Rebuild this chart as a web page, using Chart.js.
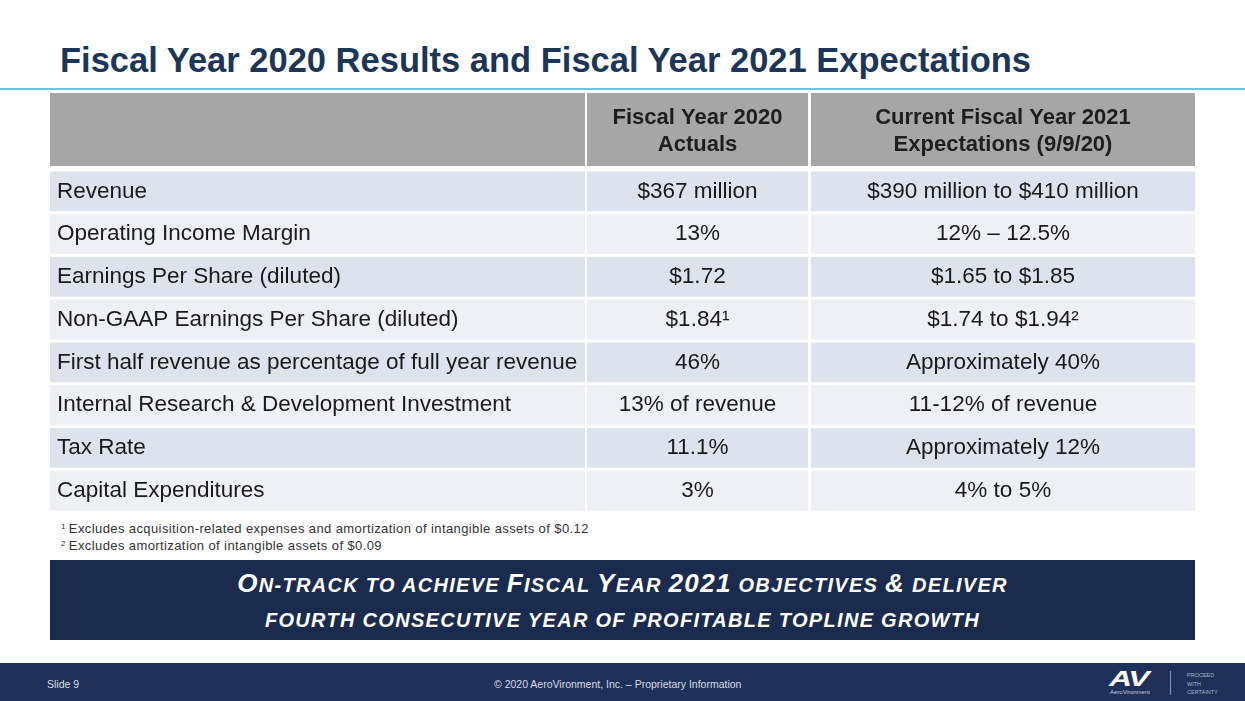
<!DOCTYPE html>
<html>
<head>
<meta charset="utf-8">
<script src="https://cdn.jsdelivr.net/npm/chart.js@4/dist/chart.umd.min.js"></script>
<style>
  body { margin: 0; width: 1245px; height: 701px; background: #fff; position: relative; overflow: hidden; font-family: "Liberation Sans", Arial, sans-serif; }
  #title { position: absolute; left: 60px; top: 40px; font-size: 34.5px; line-height: 40px; font-weight: bold; color: #1c3659; white-space: nowrap; }
  #rule { position: absolute; left: 0; top: 88px; width: 1245px; height: 2px; background: #6cc6e0; }
  #table-wrap { position: absolute; left: 50px; top: 93px; width: 1145px; height: 419px; }
  #notes { position: absolute; left: 61px; top: 520px; font-size: 13px; letter-spacing: 0.4px; color: #333; line-height: 17px; }
  #notes sup { font-size: 8px; line-height: 0; vertical-align: 4px; margin-right: 3px; }
  #banner { position: absolute; left: 50px; top: 560px; width: 1145px; height: 80px; background: #1b2b4d; color: #fff; text-align: center; font-weight: bold; font-style: italic; font-size: 20px; letter-spacing: 1.3px; line-height: 35px; box-sizing: border-box; padding-top: 6px; }
  #banner .cap { font-size: 26px; }
  #footer { position: absolute; left: 0; top: 663px; width: 1245px; height: 38px; background: #1f3159; color: #d8dce6; }
  #slide-no { position: absolute; left: 47px; top: 15px; font-size: 10.5px; }
  #copy { position: absolute; left: 494px; top: 15px; font-size: 10.5px; }
  #logo { position: absolute; left: 1109px; top: 3px; font-size: 22px; font-weight: bold; font-style: italic; color: #fff; transform: scaleX(1.45); transform-origin: left; letter-spacing: -1px; }
  #logo-name { position: absolute; left: 1110px; top: 26px; font-size: 6px; color: #ccd; }
  #logo-bar { position: absolute; left: 1170px; top: 8px; width: 1px; height: 24px; background: #8893ad; }
  #tagline { position: absolute; left: 1187px; top: 8px; font-size: 5.5px; line-height: 8.5px; color: #aab2c6; }
</style>
</head>
<body>
<div id="title">Fiscal Year 2020 Results and Fiscal Year 2021 Expectations</div>
<div id="rule"></div>
<div id="table-wrap"><canvas id="results-table" width="1145" height="419"></canvas></div>
<div id="notes">
  <div><sup>1</sup>Excludes acquisition-related expenses and amortization of intangible assets of $0.12</div>
  <div><sup>2</sup>Excludes amortization of intangible assets of $0.09</div>
</div>
<div id="banner">
  <div><span class="cap">O</span>N-TRACK TO ACHIEVE <span class="cap">F</span>ISCAL <span class="cap">Y</span>EAR <span class="cap">2021</span> OBJECTIVES <span class="cap">&amp;</span> DELIVER</div>
  <div>FOURTH CONSECUTIVE YEAR OF PROFITABLE TOPLINE GROWTH</div>
</div>
<div id="footer">
  <div id="slide-no">Slide 9</div>
  <div id="copy">© 2020 AeroVironment, Inc. – Proprietary Information</div>
  <div id="logo">AV</div>
  <div id="logo-name">AeroVironment</div>
  <div id="logo-bar"></div>
  <div id="tagline">PROCEED<br>WITH<br>CERTAINTY</div>
</div>
<script>
const header_labels = [
    [],
    ["Fiscal Year 2020", "Actuals"],
    ["Current Fiscal Year 2021", "Expectations (9/9/20)"]
];
const row_labels = [
    "Revenue",
    "Operating Income Margin",
    "Earnings Per Share (diluted)",
    "Non-GAAP Earnings Per Share (diluted)",
    "First half revenue as percentage of full year revenue",
    "Internal Research & Development Investment",
    "Tax Rate",
    "Capital Expenditures"
];
const fy2020_values = ["$367 million", "13%", "$1.72", "$1.84¹", "46%", "13% of revenue", "11.1%", "3%"];
const fy2021_values = ["$390 million to $410 million", "12% – 12.5%", "$1.65 to $1.85", "$1.74 to $1.94²", "Approximately 40%", "11-12% of revenue", "Approximately 12%", "4% to 5%"];

// column spans on the x scale (table is 1145 units wide)
const col_spans = [[0, 535], [537, 758], [761, 1145]];
const header_height = 73;
const header_gap = 4;

const table_text = {
    id: 'table_text',
    beforeDatasetsDraw(chart) {
        const ctx = chart.ctx;
        const x = chart.scales.x;
        const top = chart.chartArea.top - header_gap - header_height;
        ctx.save();
        col_spans.forEach((span, i) => {
            const x0 = x.getPixelForValue(span[0]);
            const x1 = x.getPixelForValue(span[1]);
            ctx.fillStyle = '#a6a6a6';
            ctx.fillRect(x0, top, x1 - x0, header_height);
            ctx.fillStyle = '#1e1e1e';
            ctx.font = 'bold 22px "Liberation Sans", Arial, sans-serif';
            ctx.textAlign = 'center';
            ctx.textBaseline = 'middle';
            const lines = header_labels[i];
            lines.forEach((line, j) => {
                ctx.fillText(line, (x0 + x1) / 2, top + header_height / 2 + 2 + (j - (lines.length - 1) / 2) * 27);
            });
        });
        ctx.restore();
    },
    afterDatasetsDraw(chart) {
        const ctx = chart.ctx;
        const x = chart.scales.x;
        const bars = chart.getDatasetMeta(0).data;
        ctx.save();
        ctx.fillStyle = '#1a1a1a';
        ctx.font = '22.5px "Liberation Sans", Arial, sans-serif';
        ctx.textBaseline = 'middle';
        row_labels.forEach((label, r) => {
            const y = bars[r].y;
            ctx.textAlign = 'left';
            ctx.fillText(label, x.getPixelForValue(col_spans[0][0]) + 7, y);
            ctx.textAlign = 'center';
            ctx.fillText(fy2020_values[r], x.getPixelForValue((col_spans[1][0] + col_spans[1][1]) / 2), y);
            ctx.fillText(fy2021_values[r], x.getPixelForValue((col_spans[2][0] + col_spans[2][1]) / 2), y);
        });
        ctx.restore();
    }
};

const row_colors = row_labels.map((_, r) => r % 2 == 0 ? '#dde2ec' : '#eef0f5');

let results_table = new Chart(
    document.getElementById('results-table'),
    {
        type: 'bar',
        data: {
            labels: row_labels,
            datasets: col_spans.map(span => ({
                data: row_labels.map(() => span),
                backgroundColor: row_colors,
                borderWidth: 0,
                grouped: false,
                barPercentage: 0.93,
                categoryPercentage: 1
            }))
        },
        options: {
            indexAxis: 'y',
            responsive: false,
            animation: false,
            layout: {
                padding: { top: header_height + header_gap, left: 0, right: 0, bottom: 0 }
            },
            scales: {
                x: { type: 'linear', min: 0, max: 1145, display: false },
                y: { display: false }
            },
            plugins: {
                legend: { display: false },
                tooltip: { enabled: false }
            }
        },
        plugins: [table_text]
    }
);
</script>
</body>
</html>
